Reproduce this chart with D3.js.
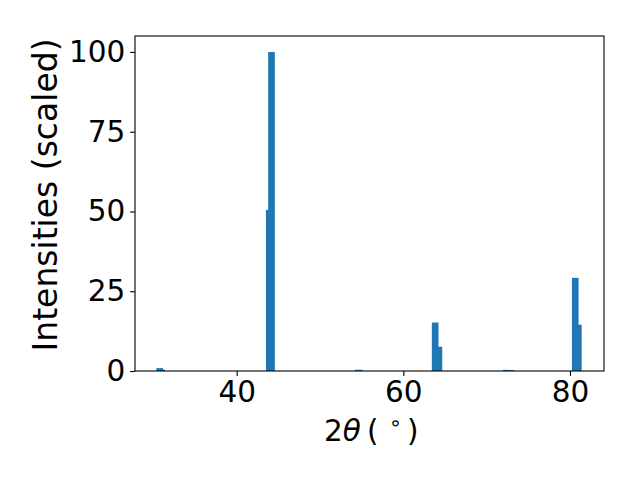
<!DOCTYPE html>
<html><head><meta charset="utf-8">
<script src="https://cdn.jsdelivr.net/npm/d3@7"></script>
<style>body{margin:0;background:#fff}svg{display:block}text{font-family:"DejaVu Sans",sans-serif;fill:#000}</style>
</head><body>
<script>
// Peak positions (2theta, degrees) and scaled intensities
const positions   = [30.76, 31.0, 43.91, 44.18, 54.6, 54.85, 63.82, 64.27, 72.36, 72.88, 80.63, 81.0];
const intensities = [0.9,   0.45, 50.5,  100,   0.4,  0.2,   15.2,  7.6,   0.35,  0.3,   29.2,  14.5];
const barWidth = 0.8;
const xTicks = [40, 60, 80];
const yTicks = [0, 25, 50, 75, 100];

const W = 640, H = 480;
const m = {left: 135, right: 604, top: 36, bottom: 371};
const svg = d3.select("body").append("svg").attr("width", W).attr("height", H);

const x = d3.scaleLinear().domain([27.8, 84.08]).range([m.left, m.right]);
const y = d3.scaleLinear().domain([0, 105]).range([m.bottom, m.top]);

const data = positions.map((p, i) => ({p, v: intensities[i]}));
svg.append("g").selectAll("rect").data(data).enter().append("rect")
  .attr("x", d => x(d.p - barWidth / 2))
  .attr("width", d => x(d.p + barWidth / 2) - x(d.p - barWidth / 2))
  .attr("y", d => y(d.v))
  .attr("height", d => y(0) - y(d.v))
  .attr("fill", "#1f77b4");

const fs = 29.5;
const xAxis = d3.axisBottom(x).tickValues(xTicks).tickSize(4.9).tickPadding(4.9).tickFormat(d3.format("d"));
const gx = svg.append("g").attr("transform", `translate(0,${m.bottom})`).call(xAxis);
const yAxis = d3.axisLeft(y).tickValues(yTicks).tickSize(4.9).tickPadding(4.9).tickFormat(d3.format("d"));
const gy = svg.append("g").attr("transform", `translate(${m.left},0)`).call(yAxis);
[gx, gy].forEach(g => {
  g.select(".domain").remove();
  g.selectAll(".tick line").attr("stroke", "#000").attr("stroke-width", 1.1);
  g.selectAll(".tick text").attr("font-size", fs).attr("font-family", "DejaVu Sans").attr("fill", "#000");
});

svg.append("rect").attr("x", m.left).attr("y", m.top)
  .attr("width", m.right - m.left).attr("height", m.bottom - m.top)
  .attr("fill", "none").attr("stroke", "#000").attr("stroke-width", 1.1);

const xl = svg.append("text").attr("y", 441).attr("font-size", 29.5);
xl.append("tspan").attr("x", 324).text("2");
xl.append("tspan").attr("font-style", "italic").text("θ");
xl.append("tspan").attr("x", 367).text("(");
xl.append("tspan").attr("x", 389).attr("font-size", 21).attr("dy", -11).text("∘");
xl.append("tspan").attr("x", 407).attr("dy", 11).text(")");

svg.append("text").attr("transform", `translate(57,195) rotate(-90)`)
  .attr("text-anchor", "middle").attr("font-size", 33).text("Intensities (scaled)");
</script>
</body></html>
